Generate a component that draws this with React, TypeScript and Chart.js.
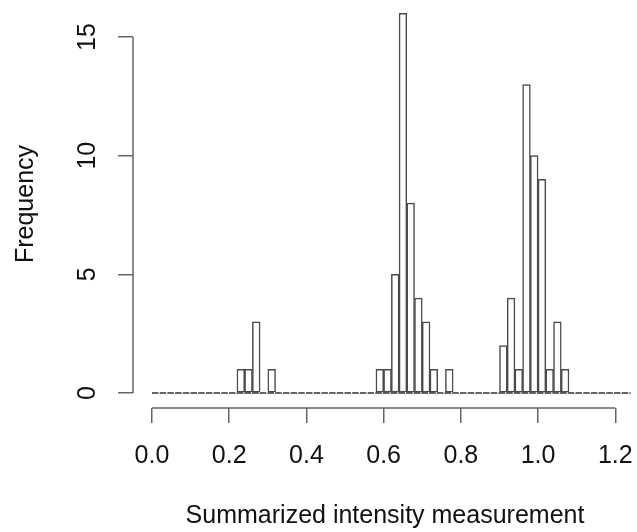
import React, { useEffect, useRef } from "react";
import { Chart, registerables } from "chart.js";

Chart.register(...registerables);

// Histogram bins: [binStart + i*binWidth, binStart + (i+1)*binWidth)
const binStart = 0;
const binWidth = 0.02;
const counts = [
  0, 0, 0, 0, 0, 0, 0, 0, 0, 0, // 0.00-0.20
  0, 1, 1, 3, 0, 1, 0, 0, 0, 0, // 0.20-0.40
  0, 0, 0, 0, 0, 0, 0, 0, 0, 1, // 0.40-0.60
  1, 5, 16, 8, 4, 3, 1, 0, 1, 0, // 0.60-0.80
  0, 0, 0, 0, 0, 2, 4, 1, 13, 10, // 0.80-1.00
  9, 1, 3, 1, 0, 0, 0, 0, 0, 0, // 1.00-1.20
  0, 0, // 1.20-1.24
];
const xTicks = [0, 0.2, 0.4, 0.6, 0.8, 1.0, 1.2];
const yTicks = [0, 5, 10, 15];
const xTitle = "Summarized intensity measurement";
const yTitle = "Frequency";

const FONT = "'Liberation Sans', Arial, Helvetica, sans-serif";
const TEXT = "#111";
const AXIS = "#666";

export default function App() {
  const ref = useRef<HTMLCanvasElement | null>(null);

  useEffect(() => {
    const canvas = ref.current;
    if (!canvas) return;

    const bars = counts.map((c, i) => ({ x: binStart + (i + 0.5) * binWidth, y: c }));
    const rangeEnd = binStart + counts.length * binWidth;

    const axisLines = {
      id: "rAxisLines",
      afterDraw(chart: any) {
        const { ctx, chartArea, scales } = chart;
        const xs = scales.x;
        const ys = scales.y;
        ctx.save();
        ctx.strokeStyle = AXIS;
        ctx.lineWidth = 1.5;
        ctx.beginPath();
        ctx.moveTo(xs.getPixelForValue(xTicks[0]), chartArea.bottom);
        ctx.lineTo(xs.getPixelForValue(xTicks[xTicks.length - 1]), chartArea.bottom);
        ctx.moveTo(chartArea.left, ys.getPixelForValue(yTicks[0]));
        ctx.lineTo(chartArea.left, ys.getPixelForValue(yTicks[yTicks.length - 1]));
        ctx.stroke();
        ctx.restore();
      },
    };

    const chart = new Chart(canvas, {
      type: "bar",
      data: {
        datasets: [
          {
            type: "bar",
            data: bars,
            backgroundColor: "#ffffff",
            borderColor: "#4a4a4a",
            borderWidth: 1.5,
            borderSkipped: false,
            barPercentage: 1,
            categoryPercentage: 1,
            order: 2,
          } as any,
          {
            type: "line",
            data: [
              { x: binStart, y: 0 },
              { x: rangeEnd, y: 0 },
            ],
            borderColor: "#333",
            borderWidth: 1.5,
            borderDash: [6.5, 1.2],
            pointRadius: 0,
            order: 1,
          } as any,
        ],
      },
      options: {
        responsive: false,
        animation: false,
        layout: { padding: 0 },
        plugins: { legend: { display: false }, tooltip: { enabled: false } },
        scales: {
          x: {
            type: "linear",
            min: -0.0492,
            max: 1.2562,
            offset: false,
            grid: {
              offset: false,
              drawOnChartArea: false,
              drawTicks: true,
              tickLength: 15,
              color: AXIS,
              lineWidth: 1.5,
            },
            border: { display: false },
            afterBuildTicks: (s: any) => {
              s.ticks = xTicks.map((v) => ({ value: v }));
            },
            afterFit: (s: any) => {
              s.height = 124;
              s.paddingLeft = 0;
              s.paddingRight = 0;
              s.paddingTop = 0;
              s.paddingBottom = 0;
            },
            ticks: {
              padding: 18,
              color: TEXT,
              font: { family: FONT, size: 25 },
              maxRotation: 0,
              minRotation: 0,
              autoSkip: false,
              callback: (v: any) => Number(v).toFixed(1),
            },
            title: {
              display: true,
              text: xTitle,
              color: TEXT,
              font: { family: FONT, size: 25 },
              padding: { top: 0, bottom: 1 },
            },
          },
          y: {
            type: "linear",
            min: -0.632,
            max: 16.56,
            grid: {
              drawOnChartArea: false,
              drawTicks: true,
              tickLength: 15,
              color: AXIS,
              lineWidth: 1.5,
            },
            border: { display: false },
            afterBuildTicks: (s: any) => {
              s.ticks = yTicks.map((v) => ({ value: v }));
            },
            afterFit: (s: any) => {
              s.width = 133;
              s.paddingLeft = 0;
              s.paddingRight = 0;
              s.paddingTop = 0;
              s.paddingBottom = 0;
            },
            ticks: {
              padding: 16,
              color: TEXT,
              font: { family: FONT, size: 25 },
              minRotation: 90,
              maxRotation: 90,
              crossAlign: "center",
              autoSkip: false,
            },
            title: {
              display: true,
              text: yTitle,
              color: TEXT,
              font: { family: FONT, size: 25 },
              padding: { top: 11, bottom: 0 },
            },
          },
        },
      },
      plugins: [axisLines],
    });

    return () => chart.destroy();
  }, []);

  return (
    <canvas
      ref={ref}
      width={637}
      height={532}
      style={{ position: "fixed", left: 0, top: 0, display: "block", width: 637, height: 532 }}
    />
  );
}
